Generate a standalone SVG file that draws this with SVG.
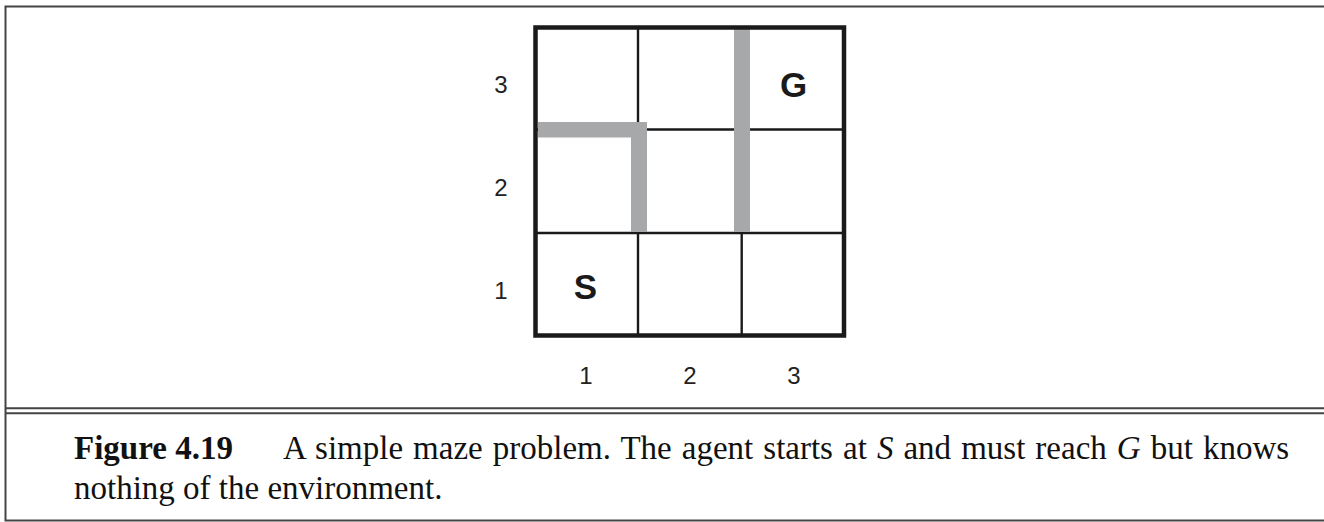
<svg xmlns="http://www.w3.org/2000/svg" width="1324" height="522" viewBox="0 0 1324 522">
<style>
.frame{fill:none;stroke:#444;stroke-width:2}
.thin{stroke:#1a1a1a;stroke-width:2.4;fill:none}
.border{stroke:#1a1a1a;stroke-width:4.5;fill:none}
.wall{fill:#a7a8aa}
.axis{font-family:"Liberation Sans",Arial,sans-serif;font-size:24px;fill:#222;text-anchor:middle}
.mark{font-family:"Liberation Sans",Arial,sans-serif;font-size:35px;font-weight:bold;fill:#1a1a1a;text-anchor:middle}
.cap{font-family:"Liberation Serif","Times New Roman",serif;font-size:33px;fill:#111}
</style>
<rect width="1324" height="522" fill="#fff"/>
<g id="frame">
<path class="frame" d="M1324 6.5H5.5V520.5H1324"/>
<path class="frame" d="M5.5 408.3H1324M5.5 413.3H1324" stroke-width="1.6"/>
</g>
<g id="maze">
<line class="thin" x1="535" y1="129.5" x2="844" y2="129.5"/>
<line class="thin" x1="535" y1="233" x2="844" y2="233"/>
<line class="thin" x1="638" y1="27.5" x2="638" y2="335.5"/>
<line class="thin" x1="741.7" y1="233" x2="741.7" y2="335.5"/>
<rect class="wall" x="538" y="122" width="109" height="15.5"/>
<rect class="wall" x="631" y="122" width="16" height="110"/>
<rect class="wall" x="734" y="29" width="16" height="203"/>
<rect class="border" x="535.5" y="27.5" width="308.5" height="308"/>
</g>
<g id="cell-S"><text class="mark" x="585.5" y="299">S</text></g>
<g id="cell-G"><text class="mark" x="793.5" y="97">G</text></g>
<g id="row-labels">
<text class="axis" x="501" y="93">3</text>
<text class="axis" x="501" y="196">2</text>
<text class="axis" x="501" y="299">1</text>
</g>
<g id="col-labels">
<text class="axis" x="586" y="384">1</text>
<text class="axis" x="690" y="384">2</text>
<text class="axis" x="794" y="384">3</text>
</g>
<g id="caption">
<text class="cap" x="74" y="459"><tspan font-weight="bold">Figure 4.19</tspan><tspan x="283" word-spacing="1.8">A simple maze problem. The agent starts at <tspan font-style="italic">S</tspan> and must reach <tspan font-style="italic">G</tspan> but knows</tspan></text>
<text class="cap" x="74" y="499">nothing of the environment.</text>
</g>
</svg>
